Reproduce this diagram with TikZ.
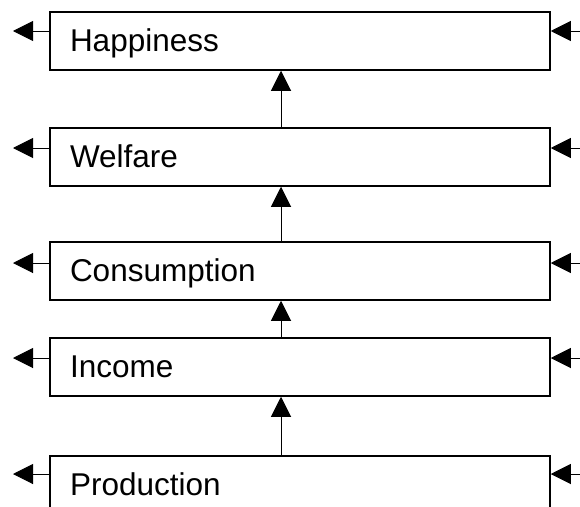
\documentclass[tikz,border=0pt]{standalone}
\usepackage{fontspec}
\setmainfont{Liberation Sans}
\usetikzlibrary{arrows.meta}
\begin{document}
\begin{tikzpicture}[x=1pt,y=-1pt,
  box/.style={draw, line width=1.5pt, minimum height=58pt, text width=460pt,
    inner xsep=20pt, inner ysep=0pt, align=left, text height=24pt, text depth=2.6pt,
    font=\fontsize{31.5}{37}\selectfont},
  arr/.style={line width=1pt, -{Triangle[length=20pt,width=20pt]}}]
\useasboundingbox (0,0) rectangle (580,506);
\fill[white] (0,0) rectangle (580,506);
\begin{scope}
\clip (0,0) rectangle (580,506);
\node[box] (h) at (300,41) {Happiness};
\node[box] (w) at (300,157) {Welfare};
\node[box] (c) at (300,271) {Consumption};
\node[box] (i) at (300,367) {Income};
\node[box] (p) at (300,485) {Production};

% vertical arrows
\draw[arr] ([xshift=-19pt]w.north) -- ([xshift=-19pt]h.south);
\draw[arr] ([xshift=-19pt]c.north) -- ([xshift=-19pt]w.south);
\draw[arr] ([xshift=-19pt]i.north) -- ([xshift=-19pt]c.south);
\draw[arr] ([xshift=-19pt]p.north) -- ([xshift=-19pt]i.south);

% free ends
\coordinate (hl) at (13,31);  \coordinate (hr) at (580,31);
\coordinate (wl) at (13,148); \coordinate (wr) at (580,148);
\coordinate (cl) at (13,263); \coordinate (cr) at (580,263);
\coordinate (il) at (13,358); \coordinate (ir) at (580,358);
\coordinate (pl) at (13,474); \coordinate (pr) at (580,474);

\draw[arr] (h.west |- hl) -- (hl);
\draw[arr] (hr) -- (h.east |- hr);
\draw[arr] (w.west |- wl) -- (wl);
\draw[arr] (wr) -- (w.east |- wr);
\draw[arr] (c.west |- cl) -- (cl);
\draw[arr] (cr) -- (c.east |- cr);
\draw[arr] (i.west |- il) -- (il);
\draw[arr] (ir) -- (i.east |- ir);
\draw[arr] (p.west |- pl) -- (pl);
\draw[arr] (pr) -- (p.east |- pr);
\end{scope}
\end{tikzpicture}
\end{document}
